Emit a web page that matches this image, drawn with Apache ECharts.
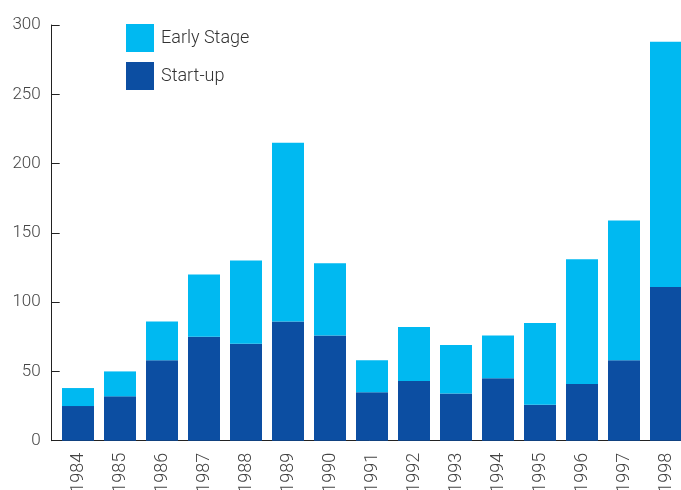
<!DOCTYPE html>
<html><head><meta charset="utf-8">
<script src="https://cdn.jsdelivr.net/npm/echarts@6/dist/echarts.min.js"></script>
<style>html,body{margin:0;padding:0;background:#fff}#c{width:681px;height:490px}</style>
</head><body><div id="c"></div>
<script>
const years = ['1984','1985','1986','1987','1988','1989','1990','1991','1992','1993','1994','1995','1996','1997','1998'];
const startUp = [25, 32, 58, 75, 70, 86, 76, 35, 43, 34, 45, 26, 41, 58, 111];
const earlyStage = [13, 18, 28, 45, 60, 129, 52, 23, 39, 35, 31, 59, 90, 101, 177];
const yTicks = [0, 50, 100, 150, 200, 250, 300];

const font = 'Roboto';
const chart = echarts.init(document.getElementById('c'), null, {renderer: 'canvas'});
chart.setOption({
  animation: false,
  backgroundColor: '#fff',
  grid: {left: 57, right: -6, top: 25, bottom: 49.3, outerBoundsMode: 'none', containLabel: false},
  legend: {
    orient: 'vertical', left: 121, top: 19, itemWidth: 28, itemHeight: 28, itemGap: 10,
    icon: 'rect',
    data: ['Early Stage', 'Start-up'],
    textStyle: {fontFamily: font, fontWeight: 300, fontSize: 18, color: '#333', padding: [0, 0, 0, 2]}
  },
  xAxis: {
    type: 'category', data: years,
    axisLine: {lineStyle: {color: '#222', width: 1}},
    axisTick: {show: false},
    axisLabel: {rotate: 90, margin: 12, fontFamily: font, fontWeight: 300, fontSize: 18, color: '#444', interval: 0}
  },
  yAxis: {
    type: 'value', min: yTicks[0], max: yTicks[yTicks.length - 1], interval: 50,
    offset: 5.3,
    axisLine: {show: true, lineStyle: {color: '#222', width: 1}},
    axisTick: {show: true, inside: true, length: 8, lineStyle: {color: '#222'}},
    splitLine: {show: false},
    axisLabel: {margin: 11, fontFamily: font, fontWeight: 300, fontSize: 17, color: '#444'}
  },
  series: [
    {name: 'Start-up', type: 'bar', stack: 'a', data: startUp, barWidth: 32, itemStyle: {color: '#0C4EA2'}},
    {name: 'Early Stage', type: 'bar', stack: 'a', data: earlyStage, barWidth: 32, itemStyle: {color: '#00B9F1'}}
  ]
});
</script></body></html>
